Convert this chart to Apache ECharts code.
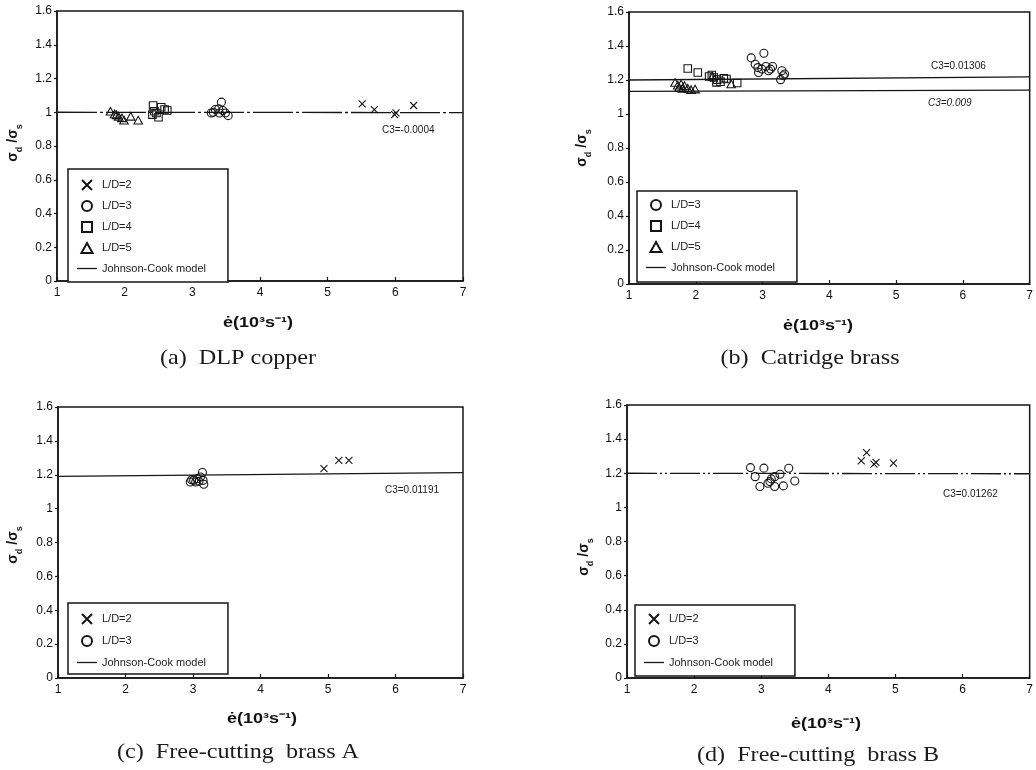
<!DOCTYPE html>
<html><head><meta charset="utf-8">
<script src="https://cdn.jsdelivr.net/npm/echarts/dist/echarts.min.js"></script>
<style>html,body{margin:0;padding:0;background:#fff}#c{width:1036px;height:770px}</style>
</head><body><div id="c"></div><script>
// ---- axis ticks ----
const xTicks = [1, 2, 3, 4, 5, 6, 7];
const yTicks = [0, 0.2, 0.4, 0.6, 0.8, 1, 1.2, 1.4, 1.6];
const seriesNames = ['L/D=2', 'L/D=3', 'L/D=4', 'L/D=5', 'Johnson-Cook model'];
// ---- (a) DLP copper ----
const a_LD2 = [[5.51,1.05],[5.69,1.016],[5.99,0.986],[6.01,0.996],[6.27,1.04]];
const a_LD3 = [[3.28,0.996],[3.31,1.0],[3.34,1.016],[3.39,1.02],[3.40,0.996],[3.43,1.06],[3.45,1.01],[3.49,0.996],[3.53,0.98]];
const a_LD4 = [[2.41,0.986],[2.42,1.04],[2.44,1.006],[2.47,0.996],[2.5,0.97],[2.54,1.03],[2.59,1.016],[2.63,1.01]];
const a_LD5 = [[1.79,1.006],[1.85,0.99],[1.88,0.985],[1.91,0.976],[1.96,0.967],[1.99,0.953],[2.09,0.976],[2.2,0.953]];
const a_JC = [[1,1.0],[7,0.998]];
// ---- (b) Catridge brass ----
const b_LD3 = [[2.83,1.33],[2.89,1.293],[2.93,1.273],[2.94,1.244],[2.99,1.264],[3.02,1.357],[3.05,1.279],[3.09,1.254],[3.12,1.264],[3.15,1.279],[3.27,1.202],[3.29,1.254],[3.31,1.225],[3.33,1.235]];
const b_LD4 = [[1.88,1.268],[2.03,1.244],[2.2,1.221],[2.24,1.229],[2.27,1.215],[2.31,1.186],[2.32,1.202],[2.37,1.19],[2.42,1.21],[2.46,1.206],[2.62,1.182]];
const b_LD5 = [[1.69,1.186],[1.73,1.17],[1.75,1.157],[1.78,1.176],[1.8,1.151],[1.83,1.167],[1.88,1.151],[1.93,1.143],[1.99,1.147],[2.25,1.222],[2.53,1.177]];
const b_JC1 = [[1,1.2],[7,1.218]];
const b_JC2 = [[1,1.133],[7,1.141]];
// ---- (c) Free-cutting brass A ----
const c_LD2 = [[4.94,1.236],[5.16,1.285],[5.31,1.285]];
const c_LD3 = [[2.96,1.157],[2.98,1.171],[3.01,1.167],[3.04,1.157],[3.06,1.177],[3.09,1.161],[3.11,1.187],[3.14,1.213],[3.15,1.167],[3.16,1.144]];
const c_JC = [[1,1.19],[7,1.212]];
// ---- (d) Free-cutting brass B ----
const d_LD2 = [[4.49,1.272],[4.57,1.321],[4.68,1.253],[4.71,1.264],[4.97,1.259]];
const d_LD3 = [[2.84,1.233],[2.91,1.18],[2.98,1.122],[3.04,1.23],[3.1,1.141],[3.13,1.151],[3.15,1.167],[3.2,1.18],[3.2,1.122],[3.28,1.194],[3.33,1.126],[3.41,1.229],[3.5,1.155]];
const d_JC = [[1,1.2],[7,1.197]];
// ---- texts ----
const captions = ['(a)  DLP copper', '(b)  Catridge brass', '(c)  Free-cutting  brass A', '(d)  Free-cutting  brass B'];
const c3Labels = ['C3=-0.0004', 'C3=0.01306', 'C3=0.009', 'C3=0.01191', 'C3=0.01262'];
const xTitle = 'ė(10³s⁻¹)';

const INK = '#161616';
const SANS = '"Liberation Sans", Arial, sans-serif';
const SERIF = '"Liberation Serif", "DejaVu Serif", serif';
const SHAPES = {
  'L/D=2': 'path://M0,0L10,10M10,0L0,10',
  'L/D=3': 'circle',
  'L/D=4': 'path://M0,0H10V10H0Z',
  'L/D=5': 'path://M5,0L10,9L0,9Z'
};
const SIZES = {'L/D=2':7, 'L/D=3':8, 'L/D=4':7.5, 'L/D=5':8.5};
const LINE_ICON = 'path://M0,0H20V1.3H0Z';

const grids = [
  {left:57, top:11, width:406, height:270},
  {left:629, top:12, width:403, height:272},
  {left:58, top:407, width:405, height:271},
  {left:627, top:405, width:403, height:273}
];

function xAxis(i){
  return {gridIndex:i, type:'value', min:xTicks[0], max:xTicks[xTicks.length-1], interval:1,
    axisLine:{show:true, lineStyle:{color:INK, width:1.5}},
    axisTick:{show:true, inside:true, length:4, lineStyle:{color:INK, width:1.2}},
    axisLabel:{color:'#111', fontSize:12, fontFamily:SANS, margin:6},
    splitLine:{show:false}};
}
function yAxis(i){
  return {gridIndex:i, type:'value', min:yTicks[0], max:yTicks[yTicks.length-1], interval:0.2,
    axisLine:{show:true, lineStyle:{color:INK, width:1.5}},
    axisTick:{show:true, inside:false, length:3, lineStyle:{color:INK, width:1.2}},
    axisLabel:{color:'#111', fontSize:12, fontFamily:SANS, margin:5,
      formatter: v => String(Math.round(v*10)/10)},
    splitLine:{show:false}};
}
function sym(name, data, gi){
  return {type:'scatter', name:name, data:data, xAxisIndex:gi, yAxisIndex:gi,
    symbol:SHAPES[name], symbolSize:SIZES[name], symbolKeepAspect:true, z:3,
    itemStyle:{color:'rgba(255,255,255,0)', borderColor:INK, borderWidth:1.1, opacity:1}};
}
function line(data, gi, type){
  return {type:'line', name:seriesNames[4], data:data, xAxisIndex:gi, yAxisIndex:gi,
    symbol:'none', silent:true, z:2,
    itemStyle:{color:INK},
    lineStyle:{color:INK, width:1.3, type:type || 'solid'}};
}
function legend(left, top, names, pad, gap){
  const data = names.map(n => n === seriesNames[4]
    ? {name:n, icon:LINE_ICON, itemStyle:{color:INK, borderWidth:0}}
    : {name:n});
  return {left:left, top:top, orient:'vertical', data:data, selectedMode:false,
    itemWidth:20, itemHeight:10, itemGap:gap, padding:pad, symbolKeepAspect:true,
    borderColor:INK, borderWidth:1.5, borderRadius:0, backgroundColor:'#fff',
    textStyle:{fontSize:11, color:'#222', fontFamily:SANS}};
}
function txt(x, y, t, st){
  return {type:'text', x:x, y:y, z:10,
    style:Object.assign({text:t, fill:'#1a1a1a', fontFamily:SANS, fontSize:10,
      textAlign:'left', textVerticalAlign:'middle'}, st || {})};
}
function yTitle(x, y){
  return {type:'text', x:x, y:y, rotation:Math.PI/2, z:10,
    style:{text:'{b|σ}{s|d}{b| /σ}{s|s}', textAlign:'center', textVerticalAlign:'middle',
      fill:'#111',
      rich:{b:{fontSize:14, fontWeight:'bold', fontFamily:SANS, fill:'#111', lineHeight:18, verticalAlign:'top'},
            s:{fontSize:9, fontWeight:'bold', fontFamily:SANS, fill:'#111', lineHeight:18, verticalAlign:'bottom'}}}};
}
function xT(x, y){
  return {type:'text', x:x, y:y, z:10, scaleX:1.2,
    style:{text:xTitle, textAlign:'center', textVerticalAlign:'middle', fill:'#111',
      fontSize:15, fontWeight:'bold', fontFamily:SANS}};
}
function cap(x, y, t){
  return {type:'text', x:x, y:y, z:10, scaleX:1.15,
    style:{text:t, textAlign:'center', textVerticalAlign:'middle', fill:'#1a1a1a',
      fontSize:21, fontFamily:SERIF}};
}

const option = {
  backgroundColor:'#fff',
  animation:false,
  grid: grids.map(g => Object.assign({show:true, borderColor:INK, borderWidth:1.5, backgroundColor:'transparent'}, g)),
  xAxis:[0,1,2,3].map(xAxis),
  yAxis:[0,1,2,3].map(yAxis),
  legend:[
    legend(68, 169, ['L/D=2','L/D=3','L/D=4','L/D=5',seriesNames[4]], [10,22,8,9], 9),
    legend(637, 191, ['L/D=3','L/D=4','L/D=5',seriesNames[4]], [8,22,9,9], 9),
    legend(68, 603, ['L/D=2','L/D=3',seriesNames[4]], [10,22,6,9], 10),
    legend(635, 605, ['L/D=2','L/D=3',seriesNames[4]], [8,22,8,9], 10)
  ],
  series:[
    line(a_JC, 0, [40,3,3,3]),
    sym('L/D=2', a_LD2, 0), sym('L/D=3', a_LD3, 0), sym('L/D=4', a_LD4, 0), sym('L/D=5', a_LD5, 0),
    line(b_JC1, 1), line(b_JC2, 1),
    sym('L/D=3', b_LD3, 1), sym('L/D=4', b_LD4, 1), sym('L/D=5', b_LD5, 1),
    line(c_JC, 2),
    sym('L/D=2', c_LD2, 2), sym('L/D=3', c_LD3, 2),
    line(d_JC, 3, [30,3,2,3,2,3]),
    sym('L/D=2', d_LD2, 3), sym('L/D=3', d_LD3, 3)
  ],
  graphic:[
    txt(382, 130, c3Labels[0]),
    txt(931, 66, c3Labels[1]),
    txt(928, 103, c3Labels[2], {fontStyle:'italic'}),
    txt(385, 490, c3Labels[3]),
    txt(943, 494, c3Labels[4]),
    yTitle(15, 143), yTitle(584, 148), yTitle(15, 545), yTitle(586, 557),
    xT(258, 323), xT(818, 326), xT(262, 719), xT(826, 724),
    cap(238, 358, captions[0]), cap(810, 358, captions[1]),
    cap(238, 752, captions[2]), cap(818, 755, captions[3])
  ]
};
const chart = echarts.init(document.getElementById('c'), null, {renderer:'canvas'});
chart.setOption(option);
</script></body></html>
